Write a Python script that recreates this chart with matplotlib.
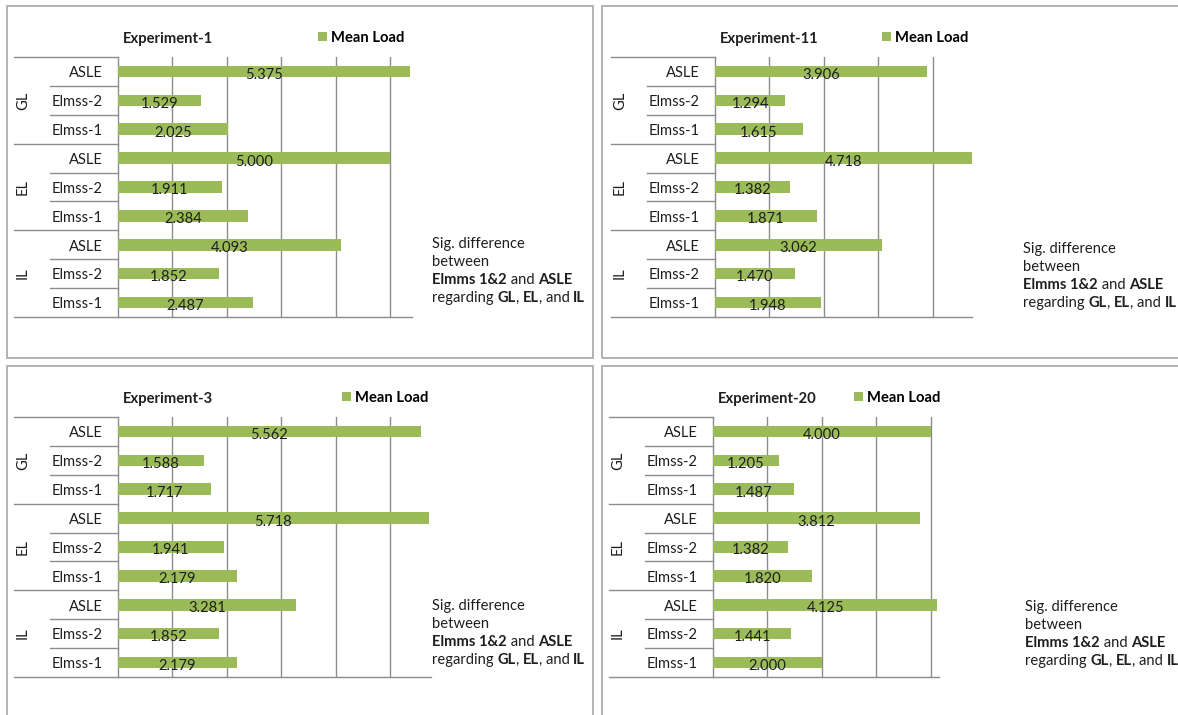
import matplotlib
matplotlib.use("Agg")
import matplotlib.pyplot as plt
from matplotlib.patches import Rectangle

plt.rcParams['font.family'] = ['Lato', 'DejaVu Sans']

# categories
groups = ["GL", "EL", "IL"]
items = ["ASLE", "Elmss-2", "Elmss-1"]

# mean load per experiment, order: GL(ASLE, E2, E1), EL(...), IL(...)
exp1 = [5.375, 1.529, 2.025, 5.000, 1.911, 2.384, 4.093, 1.852, 2.487]
exp11 = [3.906, 1.294, 1.615, 4.718, 1.382, 1.871, 3.062, 1.470, 1.948]
exp3 = [5.562, 1.588, 1.717, 5.718, 1.941, 2.179, 3.281, 1.852, 2.179]
exp20 = [4.000, 1.205, 1.487, 3.812, 1.382, 1.820, 4.125, 1.441, 2.000]

note_lines = [
    [("Sig. difference", "normal")],
    [("between", "normal")],
    [("Elmms 1&2", "bold"), (" and ", "normal"), ("ASLE", "bold")],
    [("regarding ", "normal"), ("GL", "bold"), (", ", "normal"), ("EL", "bold"),
     (", and ", "normal"), ("IL", "bold")],
]

W, H = 1178, 715
BAR = "#9BBB59"
GRID = "#8C8C8C"
TXT = "#1e1e1e"
UNIT = 54.4   # pixels per unit on x
FS = 10.6

fig = plt.figure(figsize=(W / 100, H / 100), dpi=100)


def px(x, y):
    return x / W, 1 - y / H


def panel(title, vals, box, left, top, xmax, leg_dx, note_xy):
    bx0, by0, bx1, by1 = box
    fig.patches.append(Rectangle(px(bx0, by1), (bx1 - bx0) / W, (by1 - by0) / H,
                                 transform=fig.transFigure, fill=False,
                                 ec="#A6A6A6", lw=1.2))
    width = xmax * UNIT
    height = 260
    ax = fig.add_axes([left / W, 1 - (top + height) / H, width / W, height / H])
    n = len(vals)
    ypos = list(range(n))
    ax.barh(ypos, vals, height=0.4, color=BAR, zorder=3, label="Mean Load")
    ax.set_xlim(0, xmax)
    ax.set_ylim(n - 0.5, -0.5)
    ax.set_xticks([t for t in range(1, 6) if t <= xmax])
    ax.set_yticks([])
    ax.tick_params(length=0, labelbottom=False)
    ax.grid(axis='x', color=GRID, lw=1, zorder=0)
    for s in ["top", "right", "bottom"]:
        ax.spines[s].set_visible(False)
    ax.spines["left"].set_color(GRID)
    ax.spines["left"].set_linewidth(1)

    tr = ax.get_yaxis_transform()
    # category table lines
    for b in [-0.5, 2.5, 5.5]:
        ax.plot([-104 / width, 0], [b, b], transform=tr, clip_on=False, color=GRID, lw=1)
    ax.plot([-104 / width, 1], [n - 0.5, n - 0.5], transform=tr, clip_on=False, color=GRID, lw=1)
    for b in [0.5, 1.5, 3.5, 4.5, 6.5, 7.5]:
        ax.plot([-68 / width, 0], [b, b], transform=tr, clip_on=False, color=GRID, lw=1)

    for i, v in enumerate(vals):
        ax.text(-15 / width, i + 0.06, items[i % 3], transform=tr, ha='right', va='center',
                fontsize=FS, color=TXT)
        ax.text(v / 2, i + 0.12, "{0:.3f}".format(v), ha='center', va='center',
                fontsize=FS, color=TXT, zorder=4)
    for g, name in enumerate(groups):
        ax.text(-95 / width, g * 3 + 1, name, transform=tr, rotation=90,
                ha='center', va='center', fontsize=FS, color=TXT)

    ax.text(5 / width, 1 + 18 / height, title, transform=ax.transAxes, ha='left',
            va='center', fontsize=FS, weight='bold', color=TXT)
    ax.legend(loc='center left', bbox_to_anchor=(leg_dx / width, 1 + 19.5 / height),
              frameon=False, handlelength=0.6, handleheight=0.6, handletextpad=0.25,
              borderpad=0, borderaxespad=0,
              prop={'weight': 'bold', 'size': FS})

    nx, ny = note_xy
    for k, line in enumerate(note_lines):
        prev = None
        for s, w in line:
            if prev is None:
                x0, y0 = px(nx, ny + 18 * k)
                prev = fig.text(x0, y0, s, ha='left', va='center', fontsize=FS,
                                weight=w, color=TXT)
            else:
                prev = ax.annotate(s, xy=(1, 0), xycoords=prev, ha='left', va='bottom',
                                   fontsize=FS, weight=w, color=TXT,
                                   annotation_clip=False)


panel("Experiment-1", exp1, (7, 6, 593, 358), 118, 57, 5.40, 200, (432, 244))
panel("Experiment-11", exp11, (602, 6, 1190, 358), 715, 57, 4.72, 167, (1023, 249))
panel("Experiment-3", exp3, (7, 366, 593, 725), 118, 417, 5.76, 224, (432, 606))
panel("Experiment-20", exp20, (602, 366, 1190, 725), 713, 417, 4.15, 141, (1025, 607))

fig.savefig("out.png", dpi=100)
